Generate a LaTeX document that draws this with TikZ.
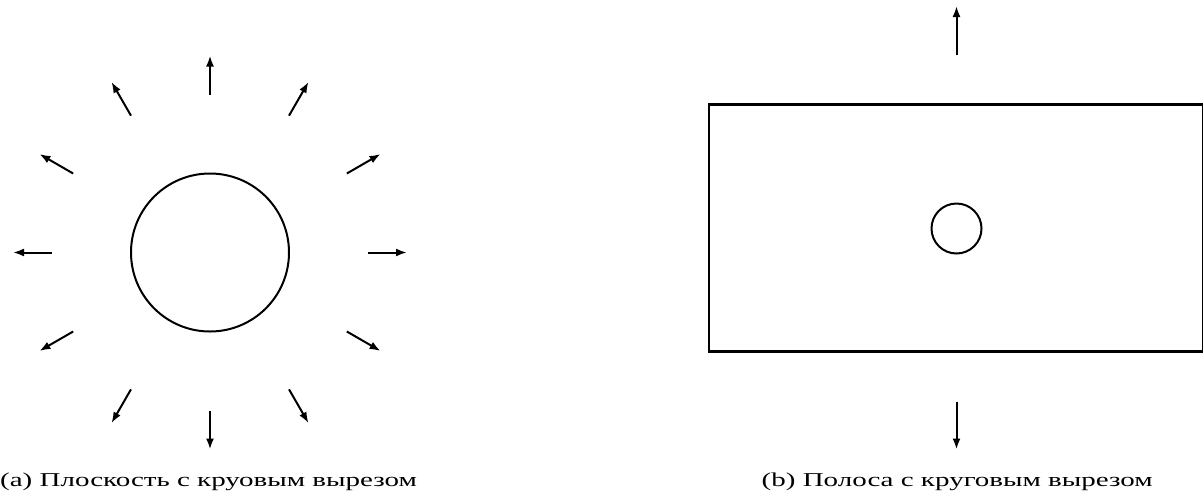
\documentclass[tikz,border=0pt]{standalone}
\usepackage{fontspec}
\newfontfamily\capfont[FakeStretch=1.48]{Liberation Serif}
\usetikzlibrary{arrows.meta}
\tikzset{
  outline/.style={line width=2pt},
  platebox/.style={line width=2.6pt},
  force/.style={line width=2pt,-{Latex[length=11pt,width=8pt]}},
  caption/.style={inner sep=0pt,font=\capfont\fontsize{19.6}{23}\selectfont}
}
\begin{document}
\begin{tikzpicture}[x=1pt,y=-1pt]
\useasboundingbox (0,0) rectangle (1203,499);
% (a) plane with hole
\coordinate (c1) at (210,252.5);
\draw[outline] (c1) circle[radius=79];
\foreach \a in {0,30,...,330}{
  \coordinate (s\a) at ([shift={(\a:158)}]c1);
  \coordinate (e\a) at ([shift={(\a:197)}]c1);
  \draw[force] (s\a) -- (e\a);
}
% (b) strip with hole
\coordinate (c2) at (956.5,228.5);
\draw[outline] (c2) circle[radius=25];
\draw[platebox] (709,104.5) rectangle (1203.6,351.5);
\coordinate (ut) at (956.5,55);
\coordinate (uh) at (956.5,6);
\coordinate (dt) at (956.5,401.5);
\coordinate (dh) at (956.5,449.5);
\draw[force] (ut) -- (uh);
\draw[force] (dt) -- (dh);
% captions
\node[caption,anchor=base west] (capa) at (0,486.7) {(a) Плоскость с круовым вырезом};
\node[caption,anchor=base] (capb) at (957.2,486.7) {(b) Полоса с круговым вырезом};
\end{tikzpicture}
\end{document}
